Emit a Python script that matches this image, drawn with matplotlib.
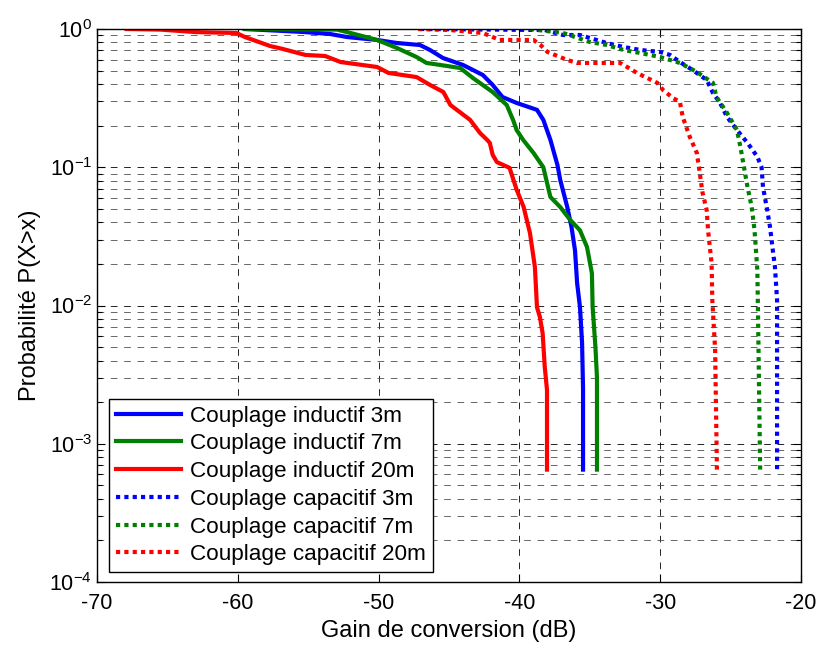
import matplotlib
matplotlib.use("Agg")
import matplotlib.pyplot as plt
import numpy as np

plt.rcParams['font.family'] = ['Liberation Sans', 'DejaVu Sans']
plt.rcParams['axes.unicode_minus'] = False
plt.rcParams['mathtext.default'] = 'regular'

# courbes : gain (dB) et probabilite P(X>x)
ind_3m_x = [-59.5, -55.3, -53.45, -52.25, -50.1, -48.7, -47.06, -46.35, -45.43, -44.0, -42.6, -41.9, -41.2,
            -40.2, -38.75, -38.3, -37.8, -37.3, -37.1, -36.6, -36.3, -36.05, -35.9, -35.7, -35.55, -35.48, -35.48]
ind_3m_p = [1.0, 0.951, 0.92, 0.875, 0.833, 0.792, 0.766, 0.705, 0.617, 0.549, 0.465, 0.394, 0.322,
            0.292, 0.26, 0.22, 0.158, 0.104, 0.081, 0.0515, 0.037, 0.025, 0.0145, 0.0098, 0.0054, 0.0025, 0.00065]

ind_7m_x = [-59.5, -52.95, -52.0, -50.1, -48.7, -47.3, -46.6, -45.6, -44.2, -43.3, -41.9, -40.9, -40.45,
            -40.2, -39.74, -39.0, -38.3, -37.8, -37.1, -36.4, -35.7, -35.2, -34.85, -34.8, -34.6, -34.49, -34.49]
ind_7m_p = [1.0, 0.99, 0.936, 0.833, 0.729, 0.627, 0.568, 0.549, 0.522, 0.442, 0.35, 0.282, 0.22,
            0.186, 0.158, 0.127, 0.1, 0.061, 0.0515, 0.0417, 0.035, 0.0265, 0.0171, 0.0098, 0.005, 0.003, 0.00065]

ind_20m_x = [-67.9, -65.5, -63.0, -60.1, -59.5, -57.7, -56.8, -55.2, -53.8, -52.7, -50.1, -49.3, -47.3,
             -46.35, -45.4, -44.9, -43.5, -42.8, -42.3, -42.1, -41.9, -41.6, -40.7, -40.2, -39.7, -39.25,
             -38.9, -38.75, -38.55, -38.35, -38.2, -38.04, -38.04]
ind_20m_p = [1.0, 0.99, 0.95, 0.936, 0.875, 0.753, 0.717, 0.649, 0.638, 0.577, 0.531, 0.481, 0.449,
             0.394, 0.35, 0.282, 0.22, 0.177, 0.158, 0.15, 0.123, 0.109, 0.099, 0.069, 0.0516, 0.0334,
             0.019, 0.0097, 0.0083, 0.0063, 0.0036, 0.00245, 0.00065]

cap_3m_x = [-47.06, -38.2, -36.9, -35.7, -35.0, -33.8, -32.6, -31.4, -30.0, -29.3, -28.6, -27.7, -26.7,
            -26.25, -25.75, -25.25, -24.55, -23.8, -23.1, -22.8, -22.7, -22.4, -22.2, -22.0, -21.85, -21.7, -21.7]
cap_3m_p = [1.0, 0.983, 0.905, 0.905, 0.861, 0.792, 0.741, 0.705, 0.682, 0.649, 0.577, 0.505, 0.428,
            0.344, 0.292, 0.231, 0.186, 0.15, 0.119, 0.1, 0.072, 0.049, 0.037, 0.025, 0.019, 0.011, 0.00065]

cap_7m_x = [-39.25, -36.9, -35.0, -33.8, -32.6, -31.4, -30.0, -28.6, -27.4, -26.25, -26.0, -25.25, -24.55,
            -24.3, -24.1, -23.8, -23.5, -23.3, -23.1, -23.05, -22.9]
cap_7m_p = [1.0, 0.936, 0.805, 0.766, 0.705, 0.67, 0.627, 0.568, 0.489, 0.407, 0.322, 0.247, 0.186,
            0.14, 0.107, 0.072, 0.0515, 0.035, 0.018, 0.0083, 0.00065]

cap_20m_x = [-47.2, -44.9, -42.6, -41.4, -39.0, -38.5, -38.0, -36.6, -35.9, -32.85, -32.35, -31.65, -30.2,
             -29.8, -29.1, -28.6, -28.4, -27.9, -27.4, -27.2, -27.0, -26.7, -26.6, -26.5, -26.35, -26.3,
             -26.1, -25.97]
cap_20m_p = [1.0, 0.983, 0.936, 0.833, 0.833, 0.766, 0.682, 0.597, 0.568, 0.568, 0.531, 0.481, 0.407,
             0.362, 0.317, 0.297, 0.231, 0.166, 0.127, 0.0925, 0.066, 0.049, 0.035, 0.028, 0.0203, 0.011,
             0.0048, 0.00065]

labels = ["Couplage inductif 3m", "Couplage inductif 7m", "Couplage inductif 20m",
          "Couplage capacitif 3m", "Couplage capacitif 7m", "Couplage capacitif 20m"]

fig = plt.figure(figsize=(8.16, 6.45), dpi=100)
ax = fig.add_axes([97/816, 63/645, 704/816, 553/645])

lw = 3
dotted = (0, (1, 1))
ax.plot(ind_3m_x, ind_3m_p, color='#0000ff', lw=lw, label=labels[0])
ax.plot(ind_7m_x, ind_7m_p, color='#008000', lw=lw, label=labels[1])
ax.plot(ind_20m_x, ind_20m_p, color='#ff0000', lw=lw, label=labels[2])
ax.plot(cap_3m_x, cap_3m_p, color='#0000ff', lw=lw, ls=dotted, label=labels[3])
ax.plot(cap_7m_x, cap_7m_p, color='#008000', lw=lw, ls=dotted, label=labels[4])
ax.plot(cap_20m_x, cap_20m_p, color='#ff0000', lw=lw, ls=dotted, label=labels[5])

ax.set_yscale('log')
ax.set_xlim(-70, -20)
ax.set_ylim(1e-4, 1)
ax.set_xticks(np.arange(-70, -19, 10))

grid_ls = (0, (8, 8))
ax.grid(True, which='major', axis='both', color='k', lw=0.6, ls=grid_ls)
ax.grid(True, which='minor', axis='y', color='0.3', lw=0.6, ls=grid_ls)

ax.tick_params(which='both', direction='in', top=True, right=True, labelsize=15.5)
ax.tick_params(which='major', length=6, width=0.8)
ax.tick_params(which='minor', length=3.5, width=0.8)
ax.tick_params(axis='x', pad=8)
for s in ax.spines.values():
    s.set_linewidth(1.0)

ax.set_xlabel("Gain de conversion (dB)", fontsize=17, labelpad=4)
ax.set_ylabel("Probabilité P(X>x)", fontsize=17, labelpad=6)

leg = ax.legend(loc='lower left', bbox_to_anchor=(0.017, 0.018), fontsize=16.2, fancybox=False,
                framealpha=1, edgecolor='k', handlelength=2.9, handletextpad=0.4,
                labelspacing=0.3, borderpad=0.3, borderaxespad=0)
leg.get_frame().set_linewidth(1.0)

plt.savefig("out.png", dpi=100)
